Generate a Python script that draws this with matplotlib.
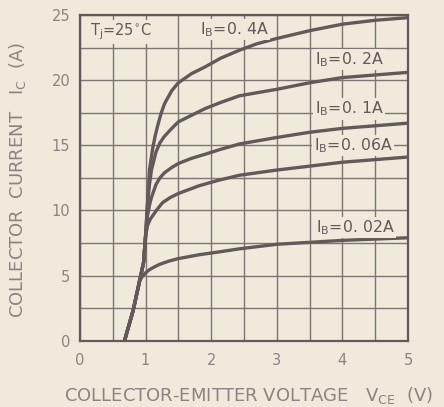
import matplotlib
matplotlib.use("Agg")
import matplotlib.pyplot as plt

plt.rcParams['font.family'] = ['DejaVu Sans']
plt.rcParams['mathtext.fontset'] = 'custom'
plt.rcParams['mathtext.rm'] = 'DejaVu Sans'
plt.rcParams['mathtext.it'] = 'DejaVu Sans'

# Collector characteristics (VCE in V, IC in A)
vce_002 = [0.68, 0.81, 0.91, 0.96, 1.01, 1.06, 1.13, 1.21, 1.35, 1.5, 1.82, 2.1, 2.43, 3.0, 3.5, 4.0, 4.5, 5.0]
ic_002 = [0, 2.3, 4.6, 5.0, 5.25, 5.45, 5.65, 5.85, 6.1, 6.3, 6.6, 6.8, 7.05, 7.4, 7.55, 7.7, 7.8, 7.9]

vce_006 = [0.68, 0.81, 0.91, 0.97, 1.0, 1.03, 1.07, 1.11, 1.18, 1.26, 1.38, 1.5, 1.82, 2.1, 2.43, 3.0, 3.5, 4.0, 4.5, 5.0]
ic_006 = [0, 2.3, 4.6, 6.0, 8.0, 8.85, 9.3, 9.6, 10.1, 10.6, 11.0, 11.3, 11.9, 12.3, 12.7, 13.1, 13.4, 13.7, 13.9, 14.1]

vce_01 = [0.68, 0.81, 0.91, 0.97, 1.0, 1.03, 1.06, 1.09, 1.16, 1.22, 1.29, 1.4, 1.5, 1.7, 1.9, 2.15, 2.43, 3.0, 3.5, 4.0, 4.5, 5.0]
ic_01 = [0, 2.3, 4.6, 6.0, 8.0, 9.6, 10.4, 11.0, 12.0, 12.5, 12.9, 13.3, 13.6, 14.0, 14.3, 14.7, 15.1, 15.6, 16.0, 16.3, 16.5, 16.7]

vce_02 = [0.68, 0.81, 0.91, 0.97, 1.0, 1.03, 1.06, 1.09, 1.16, 1.22, 1.29, 1.4, 1.5, 1.7, 1.9, 2.15, 2.43, 3.0, 3.5, 4.0, 4.5, 5.0]
ic_02 = [0, 2.3, 4.6, 6.0, 8.0, 10.5, 12.0, 13.1, 14.5, 15.2, 15.7, 16.3, 16.8, 17.3, 17.8, 18.3, 18.8, 19.3, 19.8, 20.2, 20.4, 20.6]

vce_04 = [0.68, 0.81, 0.91, 0.97, 1.0, 1.03, 1.06, 1.11, 1.15, 1.19, 1.24, 1.29, 1.4, 1.5, 1.7, 1.9, 2.15, 2.43, 2.7, 3.0, 3.5, 4.0, 4.5, 5.0]
ic_04 = [0, 2.3, 4.6, 6.0, 8.0, 10.5, 13.1, 14.8, 15.8, 16.6, 17.5, 18.2, 19.2, 19.8, 20.5, 21.0, 21.7, 22.3, 22.8, 23.2, 23.8, 24.3, 24.6, 24.8]

curves = [(vce_002, ic_002), (vce_006, ic_006), (vce_01, ic_01), (vce_02, ic_02), (vce_04, ic_04)]
curve_labels = ['I$_\\mathrm{B}$=0. 02A', 'I$_\\mathrm{B}$=0. 06A', 'I$_\\mathrm{B}$=0. 1A',
                'I$_\\mathrm{B}$=0. 2A', 'I$_\\mathrm{B}$=0. 4A']
label_pos = [(4.2, 8.7), (4.16, 15.0), (4.1, 17.8), (4.1, 21.6), (2.35, 23.9)]

bg = '#efeadc'
ink = '#625a58'
grid_col = '#7d7572'
tick_col = '#8a8482'

fig = plt.figure(figsize=(4.44, 4.07), dpi=100, facecolor=bg)
ax = fig.add_axes([0.180, 0.163, 0.739, 0.800], facecolor=bg)

for x, y in curves:
    ax.plot(x, y, color=ink, lw=2.4, solid_joinstyle='round', solid_capstyle='round', zorder=3)

for txt, (tx, ty) in zip(curve_labels, label_pos):
    ax.text(tx, ty, txt, ha='center', va='center', fontsize=11.3, color=ink, zorder=4,
            bbox=dict(facecolor=bg, edgecolor='none', pad=1.0))
ax.text(0.63, 23.7, 'T$_\\mathrm{j}$=25$^{\\circ}$C', ha='center', va='center',
        fontsize=10.5, color=ink, zorder=4, bbox=dict(facecolor=bg, edgecolor='none', pad=1.0))

ax.set_xlim(0, 5)
ax.set_ylim(0, 25)
ax.set_xticks([0, 1, 2, 3, 4, 5])
ax.set_xticks([0.5, 1.5, 2.5, 3.5, 4.5], minor=True)
ax.set_yticks([0, 5, 10, 15, 20, 25])
ax.set_yticks([2.5, 7.5, 12.5, 17.5, 22.5], minor=True)
ax.grid(True, which='both', color=grid_col, lw=1.0)
ax.tick_params(which='both', length=0, colors=tick_col, labelsize=10.5)
ax.tick_params(axis='x', pad=9)
ax.tick_params(axis='y', pad=7)
for s in ax.spines.values():
    s.set_color(ink)
    s.set_linewidth(1.6)

ax.set_xlabel('COLLECTOR-EMITTER VOLTAGE   V$_\\mathrm{CE}$  (V)', fontsize=13,
              color=tick_col, va='center')
ax.xaxis.set_label_coords(0.515, -0.168)
ax.set_ylabel('COLLECTOR  CURRENT   I$_\\mathrm{C}$  (A)', fontsize=13,
              color=tick_col, va='center')
ax.yaxis.set_label_coords(-0.19, 0.495)

fig.savefig('out.png', dpi=100, facecolor=bg)
